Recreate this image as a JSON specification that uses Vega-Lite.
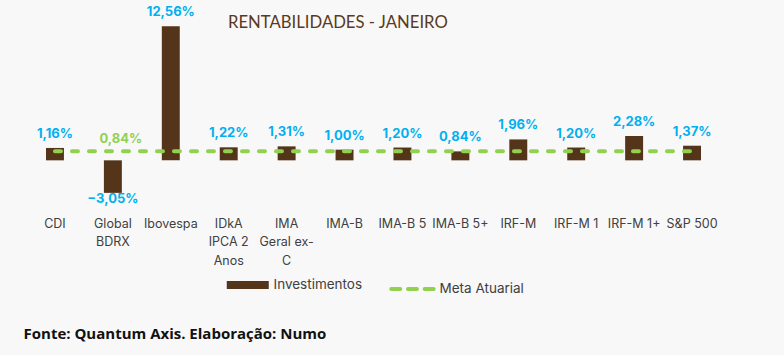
{
  "$schema": "https://vega.github.io/schema/vega-lite/v6.json",
  "autosize": "none",
  "width": 695,
  "height": 192,
  "padding": {"left": 26, "top": 11, "right": 63, "bottom": 152},
  "background": "#f8f8f8",
  "config": {
    "view": {"stroke": null},
    "locale": {"number": {"decimal": ",", "thousands": ".", "grouping": [3], "currency": ["R$", ""]}},
    "font": "Inter"
  },
  "title": {
    "text": "RENTABILIDADES - JANEIRO",
    "anchor": "start",
    "frame": "group",
    "dx": 202,
    "offset": -25,
    "font": "Lato",
    "fontSize": 16.7,
    "fontWeight": "normal",
    "color": "#5a3a1c"
  },
  "data": {
    "values": [
      {"cat": "CDI", "v": 0.0116, "meta": 0.0084},
      {"cat": "Global BDRX", "v": -0.0305, "meta": 0.0084},
      {"cat": "Ibovespa", "v": 0.1256, "meta": 0.0084},
      {"cat": "IDkA IPCA 2 Anos", "v": 0.0122, "meta": 0.0084},
      {"cat": "IMA Geral ex-C", "v": 0.0131, "meta": 0.0084},
      {"cat": "IMA-B", "v": 0.0100, "meta": 0.0084},
      {"cat": "IMA-B 5", "v": 0.0120, "meta": 0.0084},
      {"cat": "IMA-B 5+", "v": 0.0084, "meta": 0.0084},
      {"cat": "IRF-M", "v": 0.0196, "meta": 0.0084},
      {"cat": "IRF-M 1", "v": 0.0120, "meta": 0.0084},
      {"cat": "IRF-M 1+", "v": 0.0228, "meta": 0.0084},
      {"cat": "S&P 500", "v": 0.0137, "meta": 0.0084}
    ]
  },
  "encoding": {
    "x": {
      "field": "cat",
      "type": "nominal",
      "sort": null,
      "scale": {"paddingInner": 0.69, "paddingOuter": 0.345},
      "axis": {
        "title": "Fonte: Quantum Axis. Elaboração: Numo",
        "titleFont": "Open Sans",
        "titleFontSize": 15,
        "titleFontWeight": "bold",
        "titleColor": "#111111",
        "titleAnchor": "start",
        "titleAlign": "left",
        "titleBaseline": "middle",
        "titleX": -3,
        "titleY": 130,
        "labelAngle": 0,
        "labelFont": "Inter",
        "labelFontSize": 12.5,
        "labelColor": "#404040",
        "labelBaseline": "top",
        "labelPadding": 14,
        "labelLineHeight": 18.5,
        "labelExpr": "datum.value == 'Global BDRX' ? ['Global', 'BDRX'] : datum.value == 'IDkA IPCA 2 Anos' ? ['IDkA', 'IPCA 2', 'Anos'] : datum.value == 'IMA Geral ex-C' ? ['IMA', 'Geral ex-', 'C'] : datum.value",
        "ticks": false,
        "domain": false,
        "labelOverlap": false
      }
    }
  },
  "layer": [
    {
      "mark": {"type": "bar"},
      "encoding": {
        "y": {"field": "v", "type": "quantitative", "scale": {"domain": [-0.04, 0.14], "nice": false, "zero": true}, "axis": null},
        "color": {
          "datum": "Investimentos",
          "type": "nominal",
          "scale": {"domain": ["Investimentos", "Meta Atuarial"], "range": ["#55351a", "#92d050"]},
          "legend": {
            "title": null,
            "orient": "none",
            "legendX": 215,
            "legendY": 267,
            "padding": 0,
            "direction": "horizontal",
            "symbolType": "stroke",
            "symbolSize": 441,
            "labelFont": "Inter",
            "labelFontSize": 13.5,
            "labelColor": "#404040",
            "labelOffset": 19,
            "columnPadding": 20,
            "encode": {
              "symbols": {
                "update": {
                  "size": {"signal": "datum.value == 'Investimentos' ? 1764 : 2025"},
                  "stroke": {"signal": "datum.value == 'Investimentos' ? '#55351a' : '#92d050'"},
                  "strokeWidth": {"signal": "datum.value == 'Investimentos' ? 8 : 4"},
                  "strokeDash": {"signal": "datum.value == 'Investimentos' ? [] : [9, 7.7]"},
                  "strokeCap": {"signal": "datum.value == 'Investimentos' ? 'butt' : 'round'"},
                  "opacity": {"value": 1}
                }
              }
            }
          }
        }
      }
    },
    {
      "mark": {"type": "line", "strokeWidth": 4, "strokeDash": [6, 11], "strokeCap": "round"},
      "encoding": {
        "y": {"field": "meta", "type": "quantitative"},
        "color": {"datum": "Meta Atuarial", "type": "nominal"}
      }
    },
    {
      "transform": [{"filter": "datum.v >= 0"}],
      "mark": {"type": "text", "baseline": "bottom", "dy": -7, "font": "Inter", "fontSize": 13, "fontWeight": "bold", "color": "#00b0f0"},
      "encoding": {
        "y": {"field": "v", "type": "quantitative"},
        "text": {"field": "v", "type": "quantitative", "format": ".2%"}
      }
    },
    {
      "transform": [{"filter": "datum.v < 0"}],
      "mark": {"type": "text", "baseline": "top", "dy": 0, "font": "Inter", "fontSize": 13, "fontWeight": "bold", "color": "#00b0f0"},
      "encoding": {
        "y": {"field": "v", "type": "quantitative"},
        "text": {"field": "v", "type": "quantitative", "format": ".2%"}
      }
    },
    {
      "transform": [{"filter": "datum.cat == 'Global BDRX'"}],
      "mark": {"type": "text", "baseline": "bottom", "dy": -5, "dx": 8, "font": "Inter", "fontSize": 13, "fontWeight": "bold", "color": "#92d050"},
      "encoding": {
        "y": {"field": "meta", "type": "quantitative"},
        "text": {"field": "meta", "type": "quantitative", "format": ".2%"}
      }
    }
  ]
}
